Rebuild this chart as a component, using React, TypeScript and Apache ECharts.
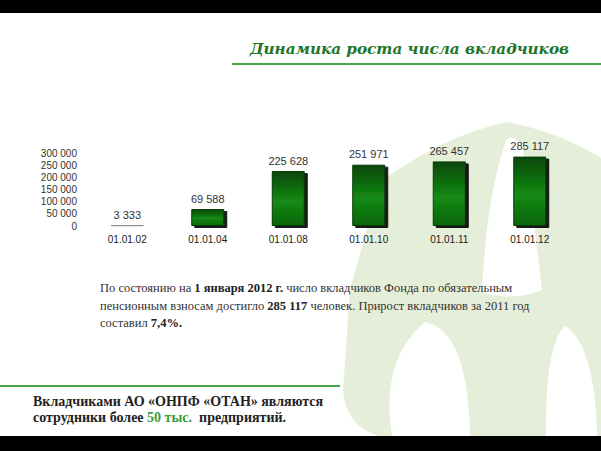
import React, { useEffect, useRef } from "react";
import * as echarts from "echarts";

const categories = ["01.01.02", "01.01.04", "01.01.08", "01.01.10", "01.01.11", "01.01.12"];
const values = [3333, 69588, 225628, 251971, 265457, 285117];
const yMin = 0;
const yMax = 300000;
const yStep = 50000;

const titleText = "Динамика роста числа вкладчиков";
const paraLines = [
  "{n|По состоянию на }{b|1 января 2012 г.}{n| число вкладчиков Фонда по обязательным}",
  "{n|пенсионным взносам достигло }{b|285 117}{n| человек. Прирост вкладчиков за 2011 год}",
  "{n|составил }{b|7,4%.}",
];
const footLines = [
  "{b|Вкладчиками АО «ОНПФ «ОТАН» являются}",
  "{b|сотрудники более }{g|50 тыс.}{b|  предприятий.}",
];

const WM_OUTER = "M380 182 Q445 135 507 122 Q560 132 601 158 L601 436 L378 436 Q345 425 343 390 L350 290 Z";
const WM_BAND = "M506 140 Q486 200 482 292 Q512 302 542 290 Q532 200 522 145 Q514 134 506 140 Z";
const WM_LEFT = "M392 436 Q380 360 425 322 Q468 330 470 436 Z";
const WM_RIGHT = "M546 436 Q545 345 565 326 Q595 345 597 436 Z";

echarts.graphic.registerShape("wmOuter", echarts.graphic.extendPath(WM_OUTER, {}));
echarts.graphic.registerShape("wmBand", echarts.graphic.extendPath(WM_BAND, {}));
echarts.graphic.registerShape("wmLeft", echarts.graphic.extendPath(WM_LEFT, {}));
echarts.graphic.registerShape("wmRight", echarts.graphic.extendPath(WM_RIGHT, {}));

const fmt = (v: number) => String(v).replace(/\B(?=(\d{3})+(?!\d))/g, " ");

export default function App() {
  const ref = useRef<HTMLDivElement>(null);
  useEffect(() => {
    if (!ref.current) return;
    const chart = echarts.init(ref.current, null, { renderer: "svg" });
    const barStyle = {
      color: new echarts.graphic.LinearGradient(0, 0, 0, 1, [
        { offset: 0, color: "#0a470a" },
        { offset: 0.55, color: "#138a13" },
        { offset: 1, color: "#0b650b" },
      ]),
      borderColor: "#063a06",
      borderWidth: 1,
      shadowColor: "rgba(0,0,0,0.9)",
      shadowOffsetX: 3,
      shadowOffsetY: 2,
      shadowBlur: 0,
    };
    const serif = "'Liberation Serif', 'DejaVu Serif', serif";
    const sans = "'Liberation Sans', Arial, sans-serif";
    chart.setOption({
      animation: false,
      backgroundColor: "#ffffff",
      grid: { left: 87, right: 31, top: 153, bottom: 225, containLabel: false },
      xAxis: {
        type: "category",
        data: categories,
        axisLine: { show: false },
        axisTick: { show: false },
        axisLabel: { margin: 8, fontSize: 10, color: "#1a1a1a", fontFamily: sans },
      },
      yAxis: {
        type: "value",
        min: yMin,
        max: yMax,
        interval: yStep,
        axisLine: { show: false },
        axisTick: { show: false },
        splitLine: { show: false },
        axisLabel: {
          margin: 10,
          fontSize: 10,
          color: "#333",
          fontFamily: sans,
          formatter: (v: number) => fmt(v),
        },
      },
      series: [
        {
          type: "bar",
          barWidth: 33,
          z: 5,
          data: values.map((v, i) =>
            i === 0
              ? { value: v, itemStyle: { color: "#8a8a8a", borderColor: "#8a8a8a", borderWidth: 1 } }
              : { value: v, itemStyle: barStyle }
          ),
          label: {
            show: true,
            position: "top",
            distance: 5,
            fontSize: 11,
            color: "#333",
            fontFamily: sans,
            formatter: (p: any) => fmt(p.value),
          },
        },
      ],
      graphic: [
        { type: "wmOuter", z: -10, silent: true, style: { fill: "#e5eed8" } },
        { type: "wmBand", z: -9, silent: true, style: { fill: "#ffffff" } },
        { type: "wmLeft", z: -9, silent: true, style: { fill: "#ffffff" } },
        { type: "wmRight", z: -9, silent: true, style: { fill: "#ffffff" } },
        { type: "rect", z: 10, shape: { x: 0, y: 0, width: 601, height: 13 }, style: { fill: "#000" } },
        { type: "rect", z: 10, shape: { x: 0, y: 436, width: 601, height: 15 }, style: { fill: "#000" } },
        {
          type: "text",
          z: 10,
          style: {
            text: titleText,
            x: 569,
            y: 49,
            align: "right",
            verticalAlign: "middle",
            fontSize: 15.2,
            fontStyle: "italic",
            fontWeight: "bold",
            fontFamily: "'DejaVu Serif', serif",
            fill: "#217529",
          },
        },
        {
          type: "line",
          z: 10,
          shape: { x1: 232, y1: 64, x2: 601, y2: 64 },
          style: { stroke: "#4aa64a", lineWidth: 2 },
        },
        ...paraLines.map((t, i) => ({
          type: "text",
          z: 10,
          style: {
            text: t,
            x: 100,
            y: 288 + i * 17.5,
            verticalAlign: "middle",
            rich: {
              n: { fontSize: 12.5, fontFamily: serif, fill: "#333", color: "#333" },
              b: { fontSize: 12.5, fontFamily: serif, fontWeight: "bold", fill: "#222", color: "#222" },
            },
          },
        })),
        {
          type: "line",
          z: 10,
          shape: { x1: 0, y1: 386, x2: 340, y2: 386 },
          style: { stroke: "#4aa64a", lineWidth: 2 },
        },
        ...footLines.map((t, i) => ({
          type: "text",
          z: 10,
          style: {
            text: t,
            x: 33,
            y: 401 + i * 16.5,
            verticalAlign: "middle",
            rich: {
              b: { fontSize: 14, fontFamily: serif, fontWeight: "bold", fill: "#222", color: "#222" },
              g: { fontSize: 14, fontFamily: serif, fontWeight: "bold", fill: "#3c9c3c", color: "#3c9c3c" },
            },
          },
        })),
      ],
    });
    return () => chart.dispose();
  }, []);
  return (
    <div
      ref={ref}
      style={{ position: "fixed", left: 0, top: 0, width: 601, height: 451, background: "#fff" }}
    />
  );
}
